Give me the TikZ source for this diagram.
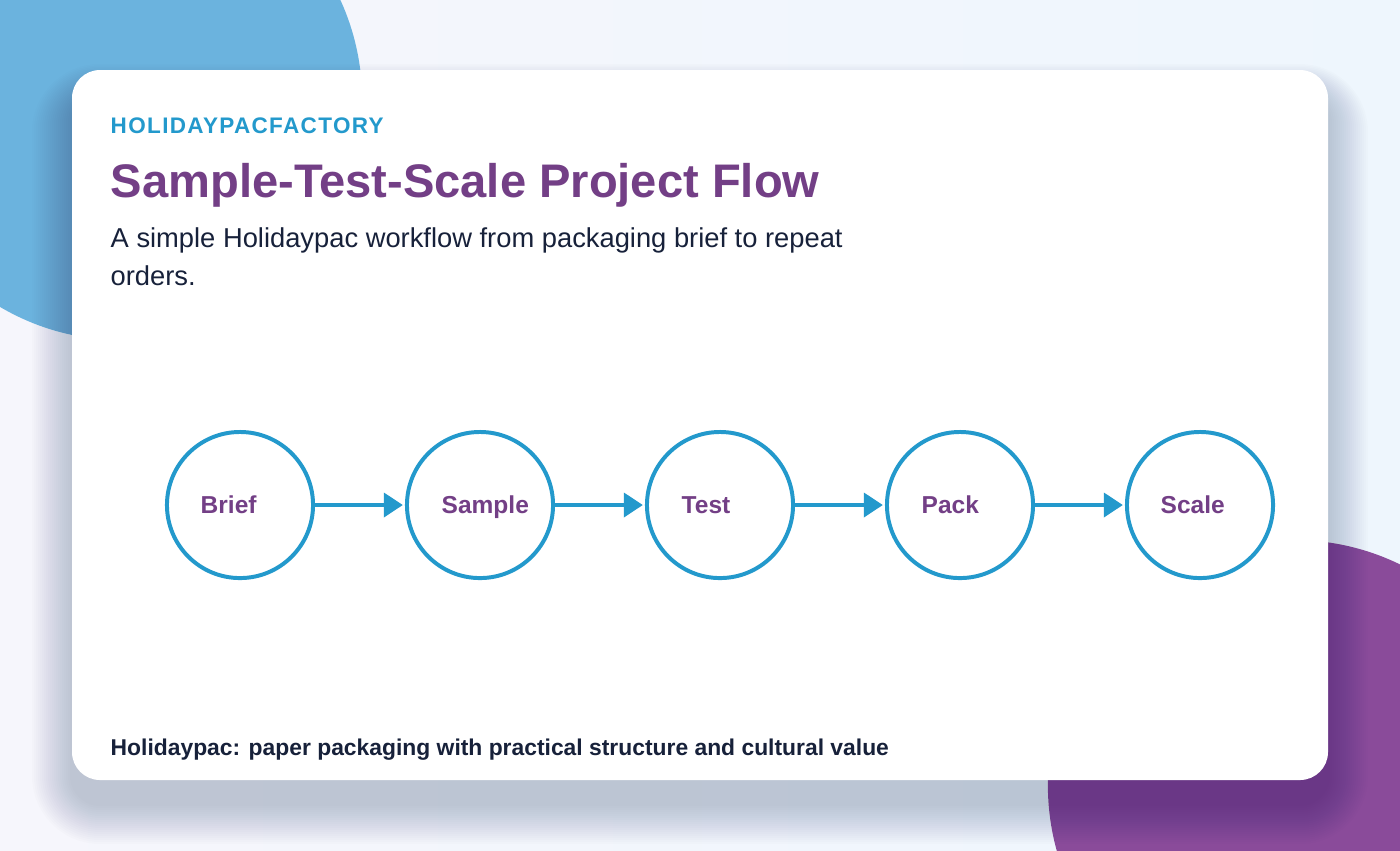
\documentclass[tikz,border=0pt]{standalone}
\usepackage{fontspec}
\setmainfont{Liberation Sans}
\newfontfamily\brandfont[LetterSpace=6]{Liberation Sans}
\usetikzlibrary{arrows.meta,positioning}

\definecolor{hpblue}{HTML}{2399CC}
\definecolor{hppurple}{HTML}{733F86}
\definecolor{hpnavy}{HTML}{17213A}
\definecolor{blobblue}{HTML}{6BB3DE}
\definecolor{blobpurple}{HTML}{8A4B9A}
\definecolor{bgleft}{HTML}{F6F6FC}
\definecolor{bgright}{HTML}{EEF6FD}
\definecolor{shadowcol}{HTML}{1E3250}

\tikzset{
  stage/.style={circle, draw=hpblue, line width=1.13pt, minimum size=1.46cm, inner sep=0pt},
  stagetext/.style={anchor=base west, inner sep=0pt, text=hppurple, font=\bfseries\fontsize{6.97}{8}\selectfont},
  flow/.style={-{Triangle[length=5.4pt,width=6.8pt]}, draw=hpblue, line width=1.13pt, shorten >=0.6pt},
  plain/.style={anchor=base west, inner sep=0pt},
}

\begin{document}
\begin{tikzpicture}[x=0.01cm,y=-0.01cm]
        \useasboundingbox (0,0) rectangle (1400,850);
        \begin{scope}
            \clip (0,0) rectangle (1400,850);
            \shade[left color=bgleft, right color=bgright] (0,0) rectangle (1400,850);
            \fill[blobblue] (122,100) circle (2.4cm);
            \fill[blobpurple] (1293,785) circle (2.45cm);
            % soft card shadow
            \foreach \i in {1,...,20}
                \fill[shadowcol, opacity=0.013, rounded corners=0.28cm+0.02cm*\i]
                    (72-2*\i,94-1.5*\i) rectangle (1328+2*\i,804+2*\i);
        \end{scope}
        \fill[white, rounded corners=0.28cm] (72,70) rectangle (1328,780);

        \node[plain, text=hpblue, font=\brandfont\bfseries\fontsize{6.4}{7}\selectfont] (brand) at (110,133) {HOLIDAYPACFACTORY};
        \node[plain, text=hppurple, font=\bfseries\fontsize{13.4}{15}\selectfont] (title) at (110,197) {Sample-Test-Scale Project Flow};
        \node[plain, text=hpnavy, font=\fontsize{7.77}{9}\selectfont] (subA) at (110,247) {A simple Holidaypac workflow from packaging brief to repeat};
        \node[plain, text=hpnavy, font=\fontsize{7.77}{9}\selectfont] (subB) at (110,285) {orders.};

        \node[stage] (brief) at (240,505) {};
        \node[stage] (sample) at (480,505) {};
        \node[stage] (test) at (720,505) {};
        \node[stage] (pack) at (960,505) {};
        \node[stage] (scale) at (1200,505) {};

        \node[stagetext] (briefT) at (200,513) {Brief};
        \node[stagetext] (sampleT) at (441,513) {Sample};
        \node[stagetext] (testT) at (681,513) {Test};
        \node[stagetext] (packT) at (921,513) {Pack};
        \node[stagetext] (scaleT) at (1160,513) {Scale};

        \draw[flow] (brief) -- (sample);
        \draw[flow] (sample) -- (test);
        \draw[flow] (test) -- (pack);
        \draw[flow] (pack) -- (scale);

        \node[plain, text=hpnavy, font=\bfseries\fontsize{6.5}{8}\selectfont] (footer) at (110,755) {Holidaypac: paper packaging with practical structure and cultural value};
    \end{tikzpicture}
\end{document}
